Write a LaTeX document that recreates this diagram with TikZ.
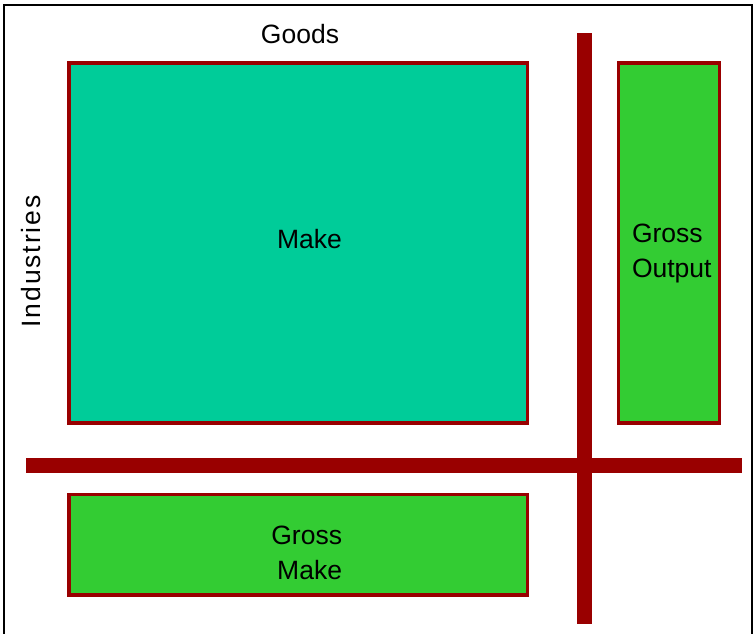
\documentclass[tikz,border=0pt]{standalone}
\usepackage{fontspec}
\setmainfont{Liberation Sans}
\definecolor{darkred}{RGB}{153,0,0}
\definecolor{makecol}{RGB}{0,204,153}
\definecolor{grosscol}{RGB}{51,204,51}
\begin{document}
\begin{tikzpicture}[x=1pt,y=-1pt]
\tikzstyle{every node}+=[inner sep=0pt, outer sep=0pt]
\tikzstyle{box}=[draw=darkred, line width=3.5pt, anchor=north west]
\tikzstyle{lbl}=[font=\fontsize{26.5}{35}\selectfont, anchor=base]
\useasboundingbox (0,0) rectangle (753,633);
\draw [black, line width=2pt] (3.5,640) -- (3.5,5) -- (752,5) -- (752,640);
% boxes
\node [box, fill=makecol, minimum width=458.5pt, minimum height=360pt] (make) at (69,63) {};
\node [box, fill=grosscol, minimum width=101pt, minimum height=360pt] (gout) at (618.5,63) {};
\node [box, fill=grosscol, minimum width=458.5pt, minimum height=100.5pt] (gmake) at (69,494.5) {};
% bars
\fill [darkred] (577,32.7) rectangle (592,624);
\fill [darkred] (26,458) rectangle (742,473);
% labels
\node [lbl] (goods) at (300,43) {Goods};
\node [lbl, rotate=90] (ind) at (40,261.5) {\addfontfeature{LetterSpace=7.0}Industries};
\node [lbl] (maketxt) at (309.5,248) {Make};
\node [lbl, anchor=north west, align=left] (gouttxt) at (632,224) {Gross\\Output};
\node [lbl, anchor=north east, align=right] (gmaketxt) at (342,526) {Gross\\Make};
\end{tikzpicture}
\end{document}
